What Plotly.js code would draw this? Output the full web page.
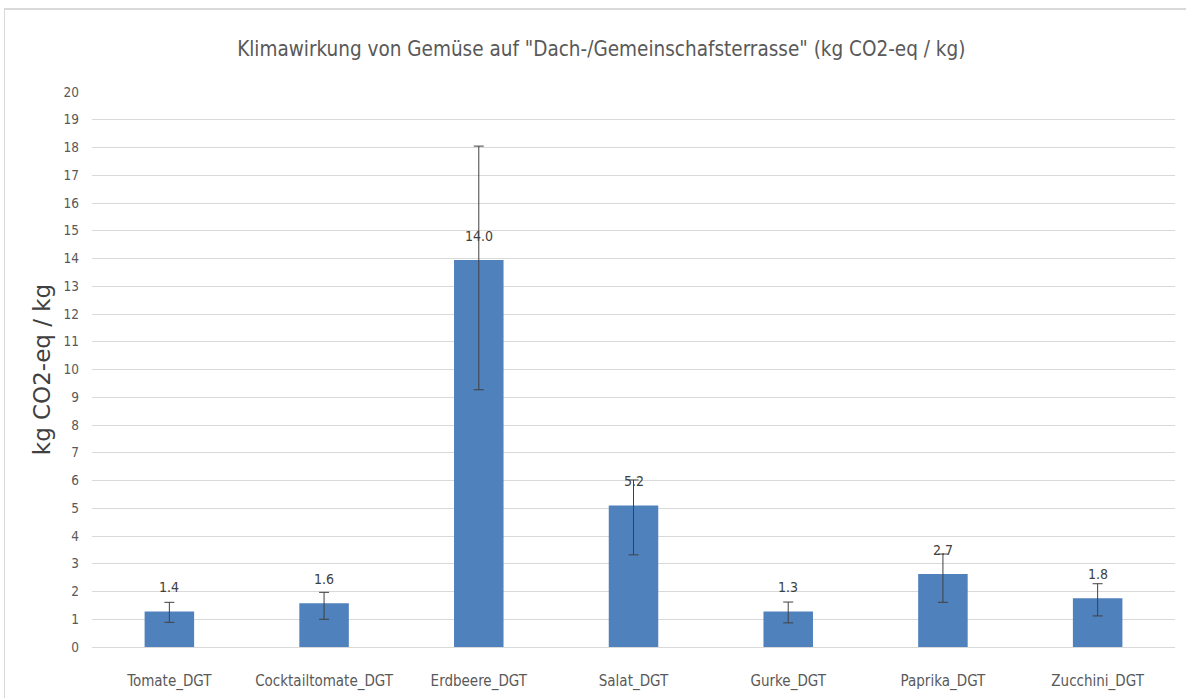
<!DOCTYPE html>
<html><head><meta charset="utf-8">
<script src="https://cdn.plot.ly/plotly-3.0.1.min.js"></script>
<style>
html,body{margin:0;padding:0;background:#fff;}
#frame{position:absolute;left:4px;top:8px;width:1190px;height:700px;border-left:1px solid #d9d9d9;border-top:2px solid #d9d9d9;}
#chart{position:absolute;left:0;top:0;width:1186px;height:698px;}
</style></head>
<body>
<div id="frame"></div>
<div id="chart"></div>
<script>
const categories = ["Tomate_DGT","Cocktailtomate_DGT","Erdbeere_DGT","Salat_DGT","Gurke_DGT","Paprika_DGT","Zucchini_DGT"];
const values = [1.28, 1.58, 13.95, 5.1, 1.28, 2.63, 1.76];
const labels = ["1.4","1.6","14.0","5.2","1.3","2.7","1.8"];
const errUpper = [1.61, 1.97, 18.05, 6.02, 1.62, 3.35, 2.28];
const errLower = [0.89, 1.00, 9.27, 3.32, 0.87, 1.61, 1.12];
const yTicks = [0,1,2,3,4,5,6,7,8,9,10,11,12,13,14,15,16,17,18,19,20];

const font = "'DejaVu Sans Condensed', Lato, sans-serif";
const grey = "#595959";

const trace = {
  type: "bar",
  x: categories,
  y: values,
  marker: {color: "#4f81bd"},
  error_y: {
    type: "data", symmetric: false,
    array: values.map((v,i)=>errUpper[i]-v),
    arrayminus: values.map((v,i)=>v-errLower[i]),
    color: "#404040", thickness: 1, width: 5
  },
  hoverinfo: "x+y"
};

const annotations = categories.map((c,i)=>({
  x: c, y: values[i], xref: "x", yref: "y",
  text: labels[i], showarrow: false, yshift: 24,
  font: {family: font, size: 14, color: "#404040"}
}));

const layout = {
  width: 1186, height: 698,
  margin: {l: 92, r: 11, t: 92, b: 51},
  paper_bgcolor: "rgba(0,0,0,0)", plot_bgcolor: "rgba(0,0,0,0)",
  title: {text: 'Klimawirkung von Gemüse auf "Dach-/Gemeinschafsterrasse" (kg CO2-eq / kg)',
          font: {family: font, size: 20.5, color: grey}, x: 0.507, xanchor: "center", y: 0.93, yanchor: "middle"},
  bargap: 0.68,
  showlegend: false,
  xaxis: {tickfont: {family: font, size: 15, color: grey}, showline: false, ticks: "outside", ticklen: 20, tickcolor: "rgba(0,0,0,0)", showgrid: false},
  yaxis: {range: [0, 20], tickvals: yTicks, ticktext: yTicks.map(String),
          tickfont: {family: font, size: 13.5, color: grey},
          gridcolor: "#d9d9d9", gridwidth: 1, zeroline: true, zerolinecolor: "#d9d9d9", zerolinewidth: 1,
          showline: false, ticks: "", ticklabelstandoff: 12,
          title: {text: "kg CO2-eq / kg", font: {family: "'DejaVu Sans', sans-serif", size: 23, color: "#404040"}, standoff: 6}},
  annotations: annotations
};

Plotly.newPlot("chart", [trace], layout, {displayModeBar: false, staticPlot: true});
</script>
</body></html>
